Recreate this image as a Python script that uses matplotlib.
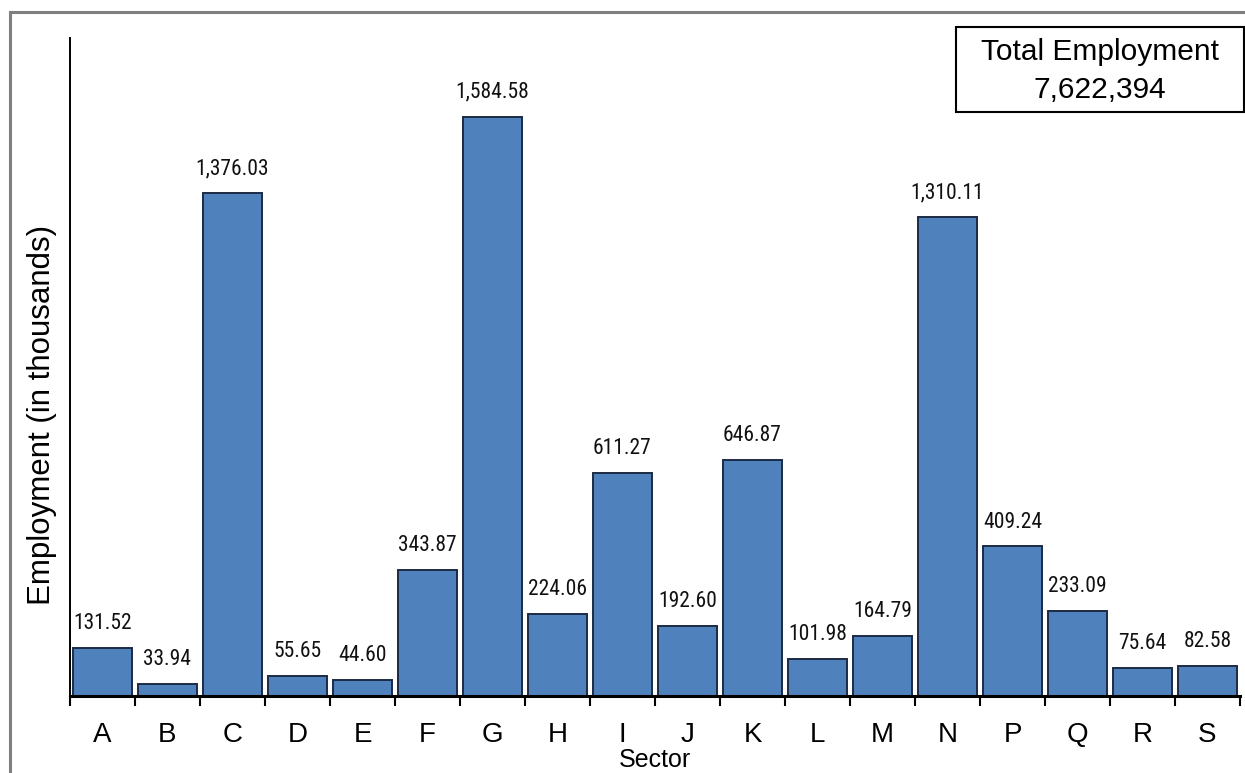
import matplotlib
matplotlib.use("Agg")
import matplotlib.pyplot as plt
from matplotlib.patches import Rectangle
from matplotlib import font_manager

sectors = ["A", "B", "C", "D", "E", "F", "G", "H", "I", "J", "K", "L", "M", "N", "P", "Q", "R", "S"]
employment = [131.52, 33.94, 1376.03, 55.65, 44.60, 343.87, 1584.58, 224.06, 611.27,
              192.60, 646.87, 101.98, 164.79, 1310.11, 409.24, 233.09, 75.64, 82.58]
total_employment = "7,622,394"

names = {f.name for f in font_manager.fontManager.ttflist}
narrow = [f for f in ["Liberation Sans Narrow", "Roboto Condensed", "Open Sans Condensed"] if f in names]
narrow_family = narrow + ["Liberation Sans", "DejaVu Sans"]

plt.rcParams['font.family'] = ['Liberation Sans', 'DejaVu Sans']

fig = plt.figure(figsize=(12.45, 7.73), dpi=100)
W, H = 1245, 773
# outer grey frame (partially cropped)
fig.patches.append(Rectangle((10 / W, -0.1), 1.2, (H - 12) / H + 0.1, transform=fig.transFigure,
                             fill=False, edgecolor="#7f7f7f", linewidth=2.2))

ax = fig.add_axes([70 / W, 1 - 696 / H, (1240 - 70) / W, (696 - 38) / H])
x = list(range(len(sectors)))
ax.bar(x, employment, width=0.92, color="#4F81BD", edgecolor="#1c2a44", linewidth=1.4, zorder=2)

for xi, v in zip(x, employment):
    ax.annotate(f"{v:,.2f}", (xi, v), xytext=(0, 10), textcoords="offset points",
                ha="center", va="bottom", fontsize=15.5, family=narrow_family, color="#111111")

ax.set_xlim(-0.5, len(sectors) - 0.5)
ax.set_ylim(0, 1800)
ax.set_yticks([])
ax.set_xticks([i - 0.5 for i in range(len(sectors) + 1)], minor=False)
ax.set_xticklabels([])
ax.tick_params(axis="x", which="major", direction="out", length=7, width=1.5, color="black")
ax.set_xticks(x, minor=True)
ax.set_xticklabels(sectors, minor=True, fontsize=20)
ax.tick_params(axis="x", which="minor", length=0, pad=19)

for s in ["top", "right"]:
    ax.spines[s].set_visible(False)
ax.spines["bottom"].set_linewidth(2.2)
ax.spines["left"].set_linewidth(1.4)

ax.set_xlabel("Sector", fontsize=18)
ax.xaxis.set_label_coords(0.5, -0.079)
ax.set_ylabel("Employment (in thousands)", fontsize=22.5)
ax.yaxis.set_label_coords(-0.011, 0.427)

# total employment box
bx0, by0, bx1, by1 = 956, 27, 1244, 112
fig.patches.append(Rectangle((bx0 / W, 1 - by1 / H), (bx1 - bx0) / W, (by1 - by0) / H,
                             transform=fig.transFigure, facecolor="white",
                             edgecolor="black", linewidth=1.5, zorder=5))
fig.text((bx0 + bx1) / 2 / W, 1 - 71 / H, "Total Employment\n" + total_employment,
         ha="center", va="center", fontsize=21.5, linespacing=1.42, zorder=6)

fig.savefig("out.png", dpi=100)
